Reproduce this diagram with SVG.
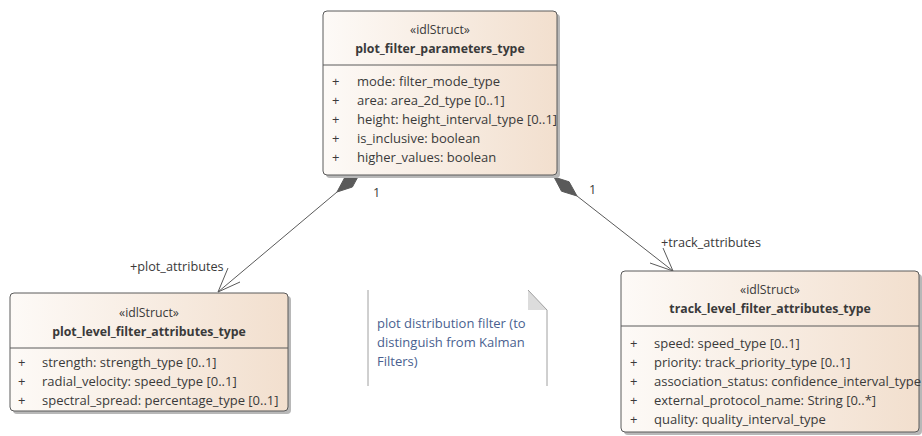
<svg xmlns="http://www.w3.org/2000/svg" width="922" height="436" viewBox="0 0 922 436">
<defs>
<linearGradient id="fill" x1="0" y1="0" x2="1" y2="0">
<stop offset="0" stop-color="#fdfaf7"/>
<stop offset="1" stop-color="#f2dfce"/>
</linearGradient>
<style>
.box{fill:url(#fill);stroke:#5a5a5a;stroke-width:1}
.shadow{fill:#b8b8b8}
.div{stroke:#5a5a5a;stroke-width:1}
text{font-family:"Open Sans","Liberation Sans",Arial,sans-serif;font-size:13px;fill:#3a3a3a}
.st{text-anchor:middle;font-size:12.3px}
.nm{text-anchor:middle;font-weight:bold;font-size:12.3px}
.lbl{font-size:12.7px}
.note{fill:#4a5f8f}
.line{stroke:#5a5a5a;stroke-width:1;fill:none}
.dia{fill:#5a5a5a;stroke:#5a5a5a;stroke-width:1}
</style>
</defs>
<rect width="922" height="436" fill="#ffffff"/>
<g id="connectors">
<line class="line" x1="337" y1="192" x2="218" y2="292"/>
<polygon class="dia" points="360,173 352.4,187 337,192 344.6,177.8"/>
<polyline class="line" points="228,268 218,292 240,282"/>
<text class="lbl" x="130" y="271">+plot_attributes</text>
<text class="lbl" x="373" y="197">1</text>
<line class="line" x1="577" y1="196" x2="673" y2="271"/>
<polygon class="dia" points="554,177 561.5,191.2 577,196 569.1,181.8"/>
<polyline class="line" points="650,263 673,271 663,248"/>
<text class="lbl" x="661" y="247">+track_attributes</text>
<text class="lbl" x="589" y="194">1</text>
</g>
<g id="plot_filter_parameters_type">
<rect class="shadow" x="326" y="14" width="234" height="164" rx="4"/>
<rect class="box" x="323" y="11" width="234" height="164" rx="4"/>
<line class="div" x1="323" y1="65" x2="557" y2="65"/>
<text class="st" x="440" y="34">«idlStruct»</text>
<text class="nm" x="440" y="53">plot_filter_parameters_type</text>
<text x="332" y="86">+</text><text x="357" y="86">mode: filter_mode_type</text>
<text x="332" y="105">+</text><text x="357" y="105">area: area_2d_type [0..1]</text>
<text x="332" y="124">+</text><text x="357" y="124">height: height_interval_type [0..1]</text>
<text x="332" y="143">+</text><text x="357" y="143">is_inclusive: boolean</text>
<text x="332" y="162">+</text><text x="357" y="162">higher_values: boolean</text>
</g>
<g id="plot_level_filter_attributes_type">
<rect class="shadow" x="13" y="296" width="278" height="118" rx="4"/>
<rect class="box" x="10" y="293" width="278" height="118" rx="4"/>
<line class="div" x1="10" y1="348" x2="288" y2="348"/>
<text class="st" x="149" y="317">«idlStruct»</text>
<text class="nm" x="149" y="336">plot_level_filter_attributes_type</text>
<text x="18" y="367">+</text><text x="42" y="367">strength: strength_type [0..1]</text>
<text x="18" y="386">+</text><text x="42" y="386">radial_velocity: speed_type [0..1]</text>
<text x="18" y="405">+</text><text x="42" y="405">spectral_spread: percentage_type [0..1]</text>
</g>
<g id="track_level_filter_attributes_type">
<rect class="shadow" x="624" y="274" width="298" height="161" rx="4"/>
<rect class="box" x="621" y="271" width="298" height="161" rx="4"/>
<line class="div" x1="621" y1="326" x2="919" y2="326"/>
<text class="st" x="770" y="294">«idlStruct»</text>
<text class="nm" x="770" y="313">track_level_filter_attributes_type</text>
<text x="630" y="348">+</text><text x="654" y="348">speed: speed_type [0..1]</text>
<text x="630" y="367">+</text><text x="654" y="367">priority: track_priority_type [0..1]</text>
<text x="630" y="386">+</text><text x="654" y="386">association_status: confidence_interval_type</text>
<text x="630" y="405">+</text><text x="654" y="405">external_protocol_name: String [0..*]</text>
<text x="630" y="424">+</text><text x="654" y="424">quality: quality_interval_type</text>
</g>
<g id="note">
<polygon points="368,290 528,290 547,310 547,386 368,386" fill="#ffffff"/>
<line x1="368" y1="290" x2="368" y2="386" stroke="#a0a0a0"/>
<line x1="547" y1="310" x2="547" y2="386" stroke="#a0a0a0"/>
<polygon points="528,290 547,310 528,310" fill="#dcdcdc"/>
<line x1="528" y1="290" x2="547" y2="310" stroke="#a0a0a0"/>
<text class="note" x="377" y="328">plot distribution filter (to</text>
<text class="note" x="377" y="347">distinguish from Kalman</text>
<text class="note" x="377" y="366">Filters)</text>
</g>
</svg>
